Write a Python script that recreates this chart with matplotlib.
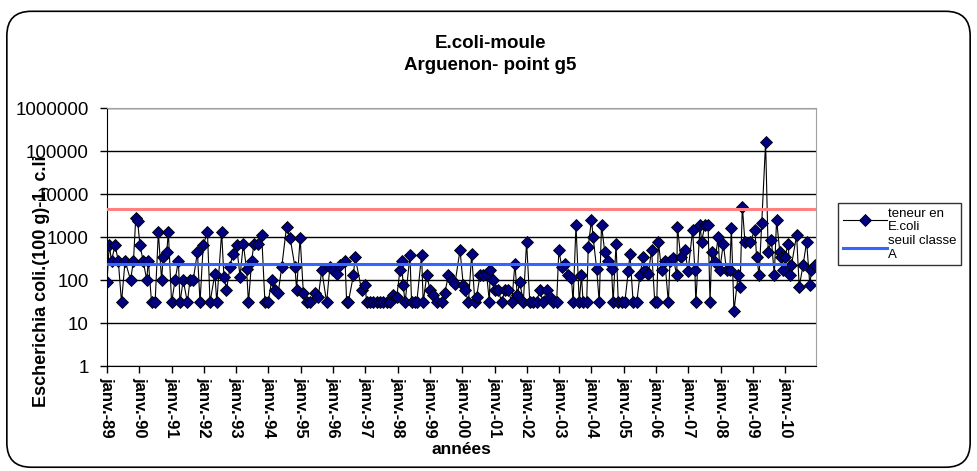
import numpy as np
import matplotlib.pyplot as plt
from matplotlib.patches import FancyBboxPatch

plt.rcParams['font.family'] = ['Liberation Sans', 'DejaVu Sans']

# dates des prelevements (annee decimale) et teneur en E.coli
annees = [
    1989.00, 1989.07, 1989.14, 1989.25, 1989.35, 1989.45, 1989.56, 1989.73, 1989.82, 1989.89,
    1989.95, 1990.02, 1990.12, 1990.23, 1990.28, 1990.38, 1990.49, 1990.59, 1990.69, 1990.74,
    1990.85, 1990.90, 1991.00, 1991.11, 1991.21, 1991.26, 1991.36, 1991.49, 1991.57, 1991.67,
    1991.80, 1991.88, 1991.98, 1992.11, 1992.19, 1992.34, 1992.40, 1992.55, 1992.62, 1992.70,
    1992.81, 1992.89, 1993.01, 1993.12, 1993.22, 1993.32, 1993.38, 1993.48, 1993.55, 1993.69,
    1993.79, 1993.89, 1993.99, 1994.10, 1994.20, 1994.30, 1994.41, 1994.56, 1994.67, 1994.82,
    1994.87, 1994.98, 1995.08, 1995.18, 1995.28, 1995.44, 1995.54, 1995.65, 1995.80, 1995.90,
    1996.01, 1996.11, 1996.21, 1996.37, 1996.42, 1996.47, 1996.63, 1996.68, 1996.88, 1996.99,
    1997.04, 1997.14, 1997.25, 1997.35, 1997.45, 1997.56, 1997.66, 1997.76, 1997.86, 1997.97,
    1998.07, 1998.12, 1998.17, 1998.23, 1998.38, 1998.43, 1998.54, 1998.59, 1998.74, 1998.79,
    1998.90, 1999.00, 1999.10, 1999.21,
    1999.36, 1999.46, 1999.57, 1999.67, 1999.77, 1999.93, 2000.03, 2000.08, 2000.19, 2000.29,
    2000.39, 2000.44, 2000.55, 2000.65, 2000.75, 2000.84, 2000.86, 2000.96, 2001.01, 2001.11,
    2001.22, 2001.32, 2001.42, 2001.53, 2001.63, 2001.70, 2001.78, 2001.89, 2001.99, 2002.09,
    2002.20, 2002.30, 2002.40, 2002.50, 2002.61, 2002.71, 2002.82, 2002.92, 2002.99, 2003.08,
    2003.18, 2003.28, 2003.38, 2003.43, 2003.52, 2003.62, 2003.69, 2003.74, 2003.85, 2003.90,
    2004.00, 2004.05, 2004.16, 2004.24, 2004.31, 2004.41, 2004.52, 2004.62, 2004.67, 2004.76,
    2004.83, 2004.93, 2005.03, 2005.14, 2005.19, 2005.29, 2005.40, 2005.50, 2005.60, 2005.65,
    2005.76, 2005.86, 2005.96, 2006.02, 2006.07, 2006.17, 2006.27, 2006.38, 2006.43, 2006.53,
    2006.64, 2006.66, 2006.76, 2006.89, 2006.99, 2007.13, 2007.20, 2007.23, 2007.36, 2007.41,
    2007.51, 2007.61, 2007.67, 2007.72, 2007.82, 2007.92, 2007.97, 2008.08, 2008.18, 2008.28,
    2008.33, 2008.41, 2008.54, 2008.60, 2008.67, 2008.75, 2008.91, 2009.06, 2009.11, 2009.19,
    2009.27, 2009.39, 2009.47, 2009.57, 2009.66, 2009.73, 2009.83, 2009.88, 2009.94, 2009.99,
    2010.09, 2010.14, 2010.19, 2010.35, 2010.43, 2010.55, 2010.66, 2010.76, 2010.81, 2010.92,
]
ecoli = [
    90, 650, 280, 650, 280, 30, 280, 100, 280, 2700,
    2300, 650, 280, 100, 280, 30, 30, 1300, 100, 350,
    450, 1300, 30, 100, 280, 30, 100, 30, 100, 100,
    450, 30, 650, 1300, 30, 140, 30, 1300, 120, 60,
    200, 400, 650, 120, 700, 180, 30, 280, 700, 700,
    1100, 30, 30, 100, 60, 50, 200, 1750, 950, 200,
    60, 950, 50, 30, 30, 50, 40, 170, 30, 200,
    170, 140, 220, 280, 30, 30, 130, 350, 60, 75,
    30, 30, 30, 30, 30, 30, 30, 30, 45, 40,
    170, 280, 75, 30, 380, 30, 30, 30, 380, 30,
    130, 60, 45, 30,
    30, 50, 130, 100, 80, 500, 75, 60, 30, 400,
    30, 40, 130, 130, 140, 30, 170, 100, 60, 60,
    30, 60, 60, 30, 240, 45, 90, 30, 780, 30,
    30, 30, 60, 30, 60, 40, 30, 30, 500, 200,
    240, 130, 110, 30, 1900, 30, 130, 30, 30, 600,
    2500, 1000, 180, 30, 1900, 450, 280, 180, 30, 700,
    30, 30, 30, 160, 400, 30, 30, 130, 350, 170,
    140, 500, 30, 30, 780, 170, 280, 30, 280, 320,
    130, 1750, 350, 500, 160, 1450, 170, 30, 1900, 780,
    1900, 1900, 30, 450, 260, 1000, 170, 700, 170, 170,
    1600, 19, 130, 70, 5100, 780, 780, 1450, 350, 130,
    2100, 160000, 450, 850, 130, 2500, 450, 350, 170, 350,
    700, 130, 220, 1100, 70, 220, 780, 75, 170, 220,
]

seuil_a = 230
seuil_rouge = 4600
debut_seuil, fin_seuil = 1989.0, 2010.0
ticks_annees = list(range(1989, 2011))
labels_annees = ['janv.-%02d' % (a % 100) for a in ticks_annees]
y_ticks = [1, 10, 100, 1000, 10000, 100000, 1000000]

fig = plt.figure(figsize=(9.77, 4.71), dpi=100)

cadre = FancyBboxPatch((0.007, 0.008), 0.986, 0.968,
                       boxstyle='round,pad=0,rounding_size=0.025',
                       mutation_aspect=977 / 471,
                       transform=fig.transFigure, fill=False,
                       ec='black', lw=1.2)
fig.patches.append(cadre)

ax = fig.add_axes([0.1095, 0.2229, 0.7257, 0.5478])

ax.plot(annees, ecoli, color='black', lw=0.8, marker='D', ms=6.5,
        mfc='#000080', mec='black', mew=0.6, zorder=2,
        label='teneur en\nE.coli')
ax.plot([debut_seuil, fin_seuil], [seuil_a, seuil_a], color='#3366ff',
        lw=2.2, zorder=3, label='seuil classe\nA')
ax.axhline(seuil_rouge, color='#ff8080', lw=2.2, zorder=3)

ax.set_yscale('log')
ax.set_ylim(1, 1000000)
ax.set_xlim(1989, 2010.95)
ax.set_yticks(y_ticks, labels=[str(v) for v in y_ticks], fontsize=13.5)
ax.minorticks_off()
ax.set_xticks(ticks_annees, labels=labels_annees, rotation=-90,
              fontsize=12, fontweight='bold')
ax.tick_params(direction='out', length=5, width=1, color='black')
ax.tick_params(axis='y', pad=8)
ax.tick_params(axis='x', pad=3)
ax.yaxis.grid(True, color='black', lw=1)
ax.set_axisbelow(True)
for s in ['top', 'right']:
    ax.spines[s].set_color('#a0a0a0')
for s in ['left', 'bottom']:
    ax.spines[s].set_color('black')

ax.set_ylabel('Escherichia coli.(100 g)-1, c.li', fontsize=13,
              fontweight='bold')
ax.yaxis.set_label_coords(-0.08, 0.33)
ax.set_xlabel('années', fontsize=12.5, fontweight='bold')
ax.xaxis.set_label_coords(0.5, -0.295)

fig.text(0.502, 1 - 43 / 471, 'E.coli-moule', ha='center', va='center',
         fontsize=13.5, fontweight='bold')
fig.text(0.502, 1 - 66 / 471, 'Arguenon- point g5', ha='center',
         va='center', fontsize=13.5, fontweight='bold')

leg = ax.legend(loc='upper left', bbox_to_anchor=(838 / 977, 1 - 203 / 471),
                bbox_transform=fig.transFigure, fontsize=9.5, frameon=True,
                fancybox=False, edgecolor='black', handlelength=3.4,
                handletextpad=0.05, borderpad=0.35, labelspacing=0.1,
                borderaxespad=0)
leg.get_frame().set_linewidth(1)

fig.savefig('out.png', dpi=100)
